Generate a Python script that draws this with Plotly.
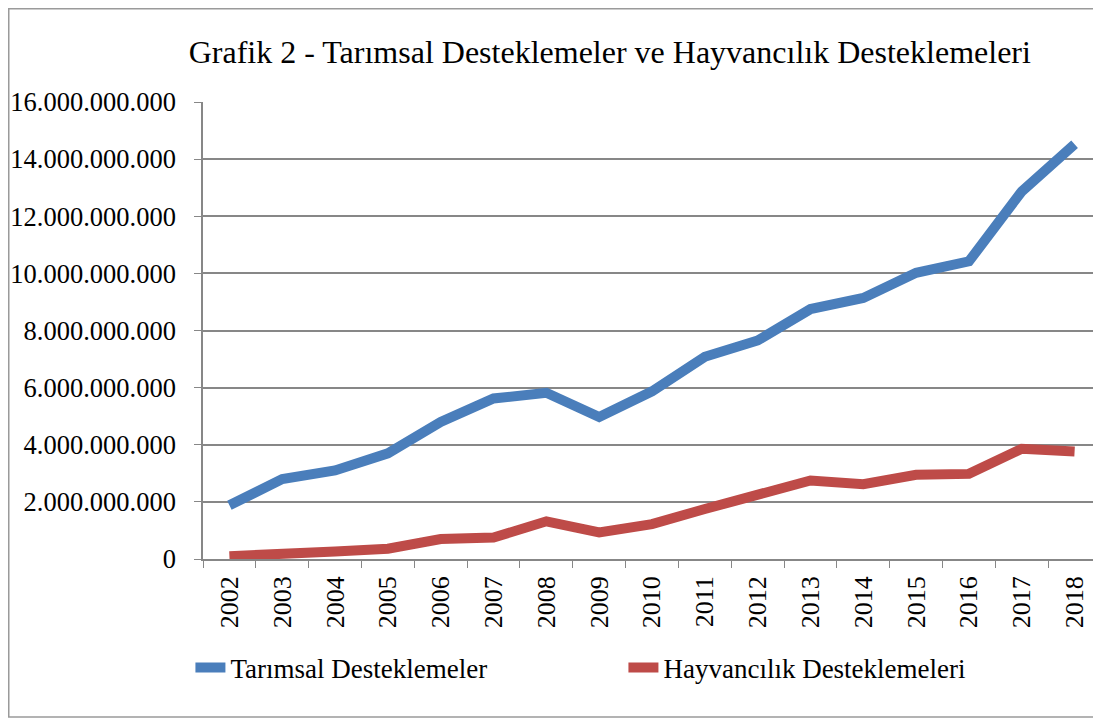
import plotly.graph_objects as go

years = [str(y) for y in range(2002, 2019)]
tarimsal = [1.88e9, 2.80e9, 3.10e9, 3.70e9, 4.80e9, 5.62e9, 5.82e9, 4.97e9, 5.87e9,
            7.08e9, 7.65e9, 8.75e9, 9.14e9, 10.02e9, 10.42e9, 12.87e9, 14.52e9]
hayvancilik = [0.10e9, 0.15e9, 0.26e9, 0.36e9, 0.70e9, 0.75e9, 1.32e9, 0.93e9, 1.22e9,
               1.75e9, 2.25e9, 2.75e9, 2.62e9, 2.95e9, 2.98e9, 3.86e9, 3.76e9]
yticks = [0, 2e9, 4e9, 6e9, 8e9, 10e9, 12e9, 14e9, 16e9]

FONT = "Liberation Serif"
GRID = "#878787"

fig = go.Figure()
fig.add_trace(go.Scatter(x=years, y=tarimsal, mode="lines", name="Tarımsal Desteklemeler",
                         line=dict(color="#4A7EBB", width=10)))
fig.add_trace(go.Scatter(x=years, y=hayvancilik, mode="lines", name="Hayvancılık Desteklemeleri",
                         line=dict(color="#BE4B48", width=10)))

# the page adds an 8px body margin, so the figure is a bit smaller than the window
fig.update_layout(
    width=1093, height=711,
    margin=dict(l=195, r=0, t=94, b=160, autoexpand=False),
    paper_bgcolor="white", plot_bgcolor="white",
    separators=",.",
    font=dict(family=FONT, color="black"),
    title=dict(text="Grafik 2 - Tarımsal Desteklemeler ve Hayvancılık Desteklemeleri",
               font=dict(size=32), x=0.453, xref="paper", xanchor="center",
               y=0.938, yref="container", yanchor="middle"),
    showlegend=True,
    legend=dict(orientation="h", x=-0.014, xanchor="left", y=-0.2385, yanchor="middle",
                font=dict(size=27), entrywidth=388, entrywidthmode="pixels",
                bgcolor="rgba(0,0,0,0)"),
    shapes=[dict(type="rect", xref="paper", yref="paper", x0=-0.2163, x1=1.02,
                 y0=-0.3457, y1=1.204, line=dict(color="#9a9a9a", width=1.5),
                 fillcolor="rgba(0,0,0,0)", layer="below")],
)
fig.update_xaxes(type="category", range=[-0.5, 16.5], tickangle=-90,
                 tickfont=dict(size=26), ticks="outside", tickson="boundaries",
                 ticklen=7, tickcolor=GRID, showline=True, linecolor=GRID, linewidth=1.5,
                 showgrid=False, automargin=False, ticklabelstandoff=5)
fig.update_yaxes(range=[0, 16e9], tickvals=yticks, tickformat=",.0f",
                 tickfont=dict(size=26.5), ticks="outside", ticklen=7, tickcolor=GRID,
                 showline=True, linecolor=GRID, linewidth=1.5,
                 showgrid=True, gridcolor=GRID, gridwidth=1.5, zeroline=False,
                 automargin=False, ticklabelstandoff=13)

fig.write_html("out.html")
